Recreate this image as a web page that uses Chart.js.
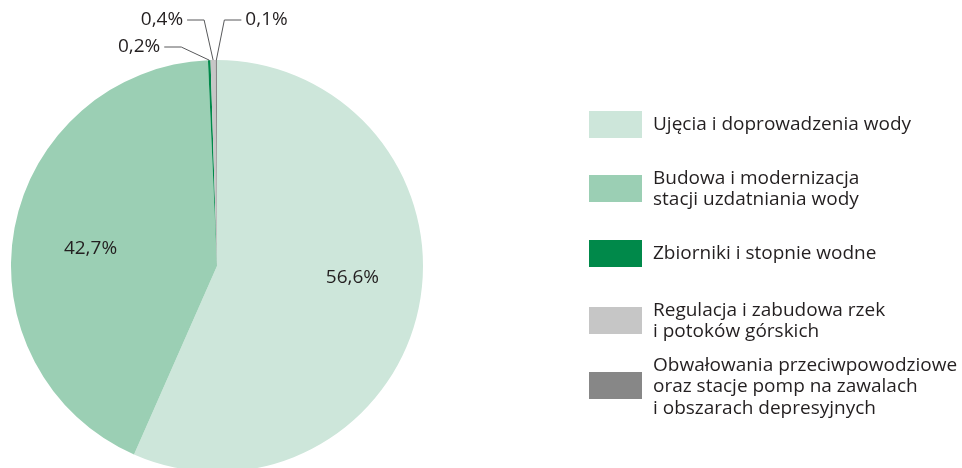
<!DOCTYPE html>
<html>
<head>
<meta charset="utf-8">
<script src="https://cdn.jsdelivr.net/npm/chart.js@4.4.1/dist/chart.umd.min.js"></script>
<style>
  html,body{margin:0;padding:0;background:#fff;overflow:hidden;}
  #wrap{position:relative;width:962px;height:480px;}
  #legend{position:absolute;left:589px;top:0;font-family:"Open Sans",sans-serif;font-size:19px;color:#231f20;}
  .item{position:absolute;left:0;display:flex;align-items:center;white-space:nowrap;}
  .sw{width:53px;height:27px;margin-right:11px;flex:none;}
  .txt{line-height:21.5px;}
</style>
</head>
<body>
<div id="wrap">
  <canvas id="pie" width="962" height="480"></canvas>
  <div id="legend"></div>
</div>
<script>
// categories (legend text, line breaks as in the original)
const categories = [
  ["Ujęcia i doprowadzenia wody"],
  ["Budowa i modernizacja", "stacji uzdatniania wody"],
  ["Zbiorniki i stopnie wodne"],
  ["Regulacja i zabudowa rzek", "i potoków górskich"],
  ["Obwałowania przeciwpowodziowe", "oraz stacje pomp na zawalach", "i obszarach depresyjnych"]
];
const shares = [56.6, 42.7, 0.2, 0.4, 0.1];
const colors = ["#cde6da", "#9bcfb4", "#00894a", "#c6c6c6", "#878787"];

const fmt = v => v.toFixed(1).replace(".", ",") + "%";

// legend vertical centres
const legendY = [124, 188, 253, 320, 386];
const legend = document.getElementById("legend");
categories.forEach((lines, i) => {
  const it = document.createElement("div");
  it.className = "item";
  it.innerHTML = `<div class="sw" style="background:${colors[i]}"></div><div class="txt">${lines.join("<br>")}</div>`;
  legend.appendChild(it);
  it.style.top = (legendY[i] - it.offsetHeight / 2) + "px";
});

// labels inside big slices, leader lines for tiny ones
const pieLabels = {
  id: "pieLabels",
  afterDatasetsDraw(chart, args, opts) {
    const ctx = chart.ctx;
    const meta = chart.getDatasetMeta(0);
    ctx.save();
    ctx.font = "19px 'Open Sans', sans-serif";
    ctx.fillStyle = "#231f20";
    ctx.textBaseline = "middle";
    meta.data.forEach((arc, i) => {
      const v = shares[i];
      const mid = (arc.startAngle + arc.endAngle) / 2;
      if (v >= 1) {
        const p = opts.inside[i];
        const a = mid + p.shift * Math.PI / 180;
        const r = arc.outerRadius * p.f;
        ctx.textAlign = "center";
        ctx.fillText(fmt(v), arc.x + Math.cos(a) * r, arc.y + Math.sin(a) * r);
        return;
      }
      const lead = opts.leaders[i];
      const px = arc.x + Math.cos(mid) * arc.outerRadius;
      const py = arc.y + Math.sin(mid) * arc.outerRadius;
      const ex = px + lead.dx, ey = lead.y;
      const hx = ex + lead.side * 17;
      ctx.strokeStyle = "#58595b";
      ctx.lineWidth = 1;
      ctx.beginPath();
      ctx.moveTo(px, py);
      ctx.lineTo(ex, ey);
      ctx.lineTo(hx, ey);
      ctx.stroke();
      ctx.textAlign = lead.side < 0 ? "right" : "left";
      ctx.fillText(fmt(v), hx + lead.side * 4, ey);
    });
    ctx.restore();
  }
};

new Chart(document.getElementById("pie"), {
  type: "pie",
  data: {
    labels: categories.map(l => l.join(" ")),
    datasets: [{ data: shares, backgroundColor: colors, borderWidth: 0 }]
  },
  options: {
    responsive: false,
    animation: false,
    layout: { padding: { top: 60, bottom: 8, left: 11, right: 539 } },
    plugins: {
      legend: { display: false },
      tooltip: { enabled: false },
      pieLabels: {
        inside: [{ f: 0.66, shift: -7 }, { f: 0.62, shift: -2.7 }],
        leaders: [null, null,
          { dx: -28, y: 47, side: -1 },
          { dx: -9, y: 20, side: -1 },
          { dx: 8, y: 20, side: 1 }]
      }
    }
  },
  plugins: [pieLabels]
});
</script>
</body>
</html>
